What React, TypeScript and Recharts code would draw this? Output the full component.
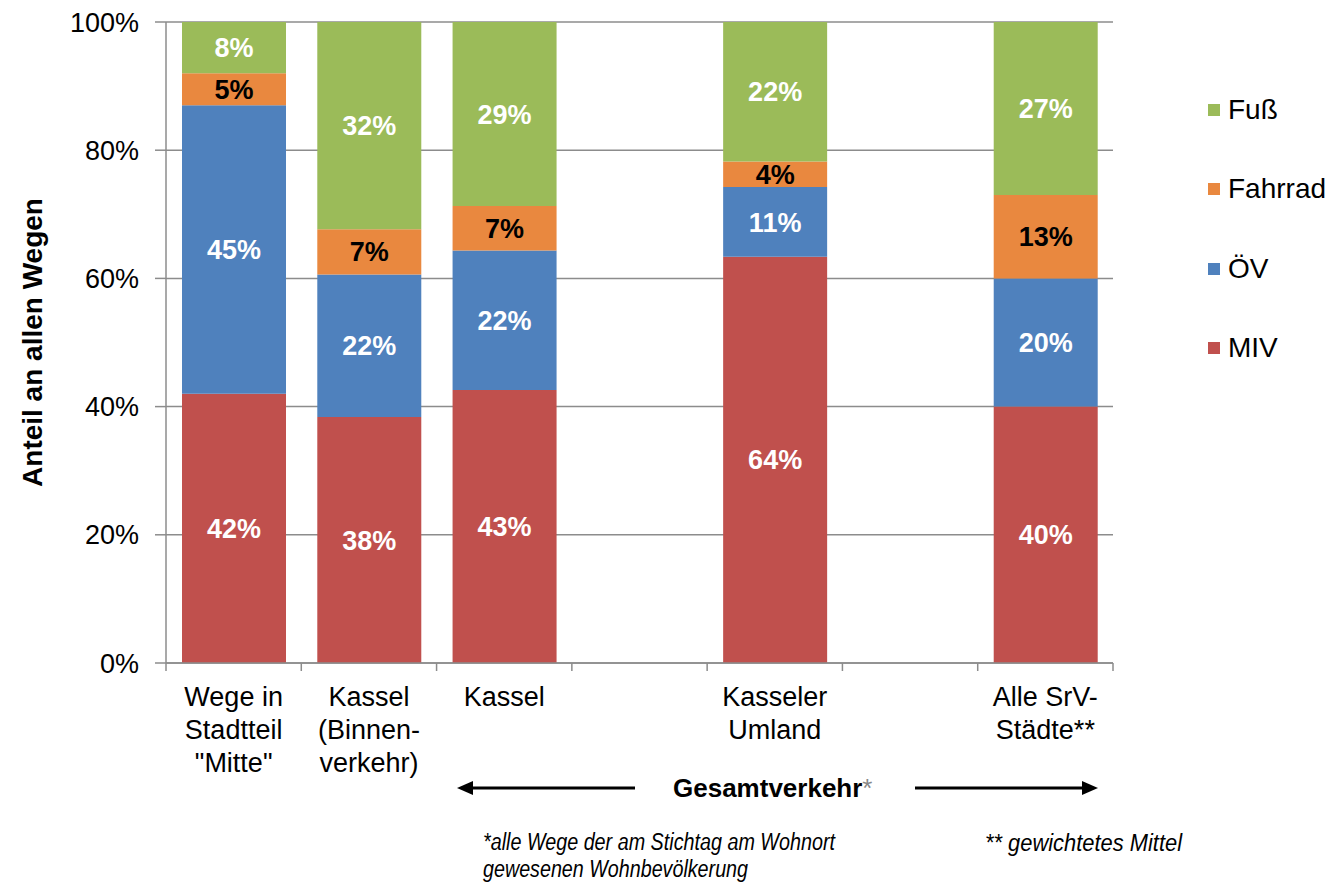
import React from 'react';
import { BarChart, Bar, XAxis, YAxis, CartesianGrid, Legend, LabelList } from 'recharts';

const categories = ['Wege in Stadtteil "Mitte"', 'Kassel (Binnenverkehr)', 'Kassel', 'gap1', 'Kasseler Umland', 'gap2', 'Alle SrV-Städte**'];
const tickLines: string[][] = [
  ['Wege in', 'Stadtteil', '"Mitte"'],
  ['Kassel', '(Binnen-', 'verkehr)'],
  ['Kassel'],
  [],
  ['Kasseler', 'Umland'],
  [],
  ['Alle SrV-', 'Städte**'],
];
const miv = [42, 38, 43, 0, 64, 0, 40];
const oev = [45, 22, 22, 0, 11, 0, 20];
const fahrrad = [5, 7, 7, 0, 4, 0, 13];
const fuss = [8, 32, 29, 0, 22, 0, 27];
const yTicks = [0, 0.2, 0.4, 0.6, 0.8, 1];

const series = [
  { key: 'MIV', color: '#C0504D', label: '#ffffff' },
  { key: 'ÖV', color: '#4F81BD', label: '#ffffff' },
  { key: 'Fahrrad', color: '#E9883F', label: '#000000' },
  { key: 'Fuß', color: '#9BBB59', label: '#ffffff' },
];

const data = categories.map((c, i) => ({
  cat: c,
  MIV: miv[i],
  'ÖV': oev[i],
  Fahrrad: fahrrad[i],
  'Fuß': fuss[i],
}));

const FONT = '"Liberation Sans", Arial, sans-serif';
const AXIS = '#8c8c8c';

const XTick = (props: any) => {
  const { x, y, payload } = props;
  const idx = props.index ?? payload?.index ?? 0;
  const count = props.visibleTicksCount || categories.length;
  const axisW = typeof props.width === 'number' ? props.width : 947;
  const bw = axisW / count;
  const lines = tickLines[idx] || [];
  return (
    <g>
      <line x1={x - bw / 2} y1={y} x2={x - bw / 2} y2={y + 8} stroke={AXIS} strokeWidth={1.5} />
      {idx === count - 1 && (
        <line x1={x + bw / 2} y1={y} x2={x + bw / 2} y2={y + 8} stroke={AXIS} strokeWidth={1.5} />
      )}
      <text x={x} y={y} textAnchor="middle" fontSize={27} fontFamily={FONT} fill="#000">
        {lines.map((l, i) => (
          <tspan key={i} x={x} dy={i === 0 ? 43 : 33}>{l}</tspan>
        ))}
      </text>
    </g>
  );
};

const LegendContent = () => {
  const items = series.slice().reverse();
  return (
    <div style={{ fontFamily: FONT }}>
      {items.map((p) => (
        <div key={p.key} style={{ height: 79.5, display: 'flex', alignItems: 'center' }}>
          <div style={{ width: 12, height: 12, background: p.color, marginRight: 8 }} />
          <span style={{ fontSize: 28, color: '#000' }}>{p.key}</span>
        </div>
      ))}
    </div>
  );
};

const YLabel = (props: any) => {
  const vb = props.viewBox || { x: 0, y: 0, width: 0, height: 0 };
  const cx = 32;
  const cy = vb.y + vb.height / 2;
  return (
    <text x={cx} y={cy} transform={`rotate(-90, ${cx}, ${cy})`} textAnchor="middle" dominantBaseline="central"
      fontSize={28} fontWeight="bold" fontFamily={FONT} fill="#000">
      Anteil an allen Wegen
    </text>
  );
};

export default function App() {
  return (
    <div style={{ position: 'absolute', left: 0, top: 0, width: 1336, height: 883, background: '#fff' }}>
      <BarChart
        width={1336}
        height={883}
        data={data}
        stackOffset="expand"
        margin={{ top: 22, right: 95, bottom: 120, left: 0 }}
      >
        <CartesianGrid vertical={false} stroke={AXIS} strokeWidth={1.5} xAxisId="cat" />
        <XAxis
          xAxisId="cat"
          dataKey="cat"
          type="category"
          interval={0}
          height={100}
          axisLine={{ stroke: AXIS, strokeWidth: 1.5 }}
          tickLine={false}
          tickSize={0}
          tickMargin={0}
          tick={<XTick />}
        />
        <YAxis
          width={166}
          domain={[0, 1]}
          ticks={yTicks}
          tickFormatter={(v: number) => `${Math.round(v * 100)}%`}
          tick={{ fontSize: 27, fontFamily: FONT, fill: '#000' }}
          tickSize={11}
          tickMargin={16}
          axisLine={{ stroke: AXIS, strokeWidth: 1.5 }}
          tickLine={{ stroke: AXIS, strokeWidth: 1.5 }}
          label={<YLabel />}
        />
        <Legend
          layout="vertical"
          align="right"
          verticalAlign="top"
          width={128}
          wrapperStyle={{ left: 1208, top: 70, width: 128 }}
          content={<LegendContent />}
        />
        {series.map((s) => (
          <Bar
            key={s.key}
            dataKey={s.key}
            name={s.key}
            stackId="a"
            xAxisId="cat"
            fill={s.color}
            barSize={104}
            isAnimationActive={false}
          >
            <LabelList
              dataKey={s.key}
              position="center"
              formatter={(v: any) => (v ? `${v}%` : '')}
              style={{ fontSize: 27, fontWeight: 'bold', fontFamily: FONT, fill: s.label }}
            />
          </Bar>
        ))}
      </BarChart>
      <svg width={1336} height={883} style={{ position: 'absolute', left: 0, top: 0, pointerEvents: 'none' }}>
        <line x1={470} y1={788} x2={635} y2={788} stroke="#000" strokeWidth={3} />
        <polygon points="457,788 473,781 473,795" fill="#000" />
        <line x1={915} y1={788} x2={1084} y2={788} stroke="#000" strokeWidth={3} />
        <polygon points="1098,788 1082,781 1082,795" fill="#000" />
        <text x={673} y={797} fontSize={26} fontFamily={FONT} fill="#000">
          <tspan fontWeight="bold">Gesamtverkehr</tspan>
          <tspan fill="#888">*</tspan>
        </text>
        <text x={483} y={850} fontSize={23} fontStyle="italic" fontFamily={FONT} fill="#000"
          textLength={352} lengthAdjust="spacingAndGlyphs">*alle Wege der am Stichtag am Wohnort</text>
        <text x={483} y={877} fontSize={23} fontStyle="italic" fontFamily={FONT} fill="#000"
          textLength={265} lengthAdjust="spacingAndGlyphs">gewesenen Wohnbevölkerung</text>
        <text x={985} y={851} fontSize={23} fontStyle="italic" fontFamily={FONT} fill="#000"
          textLength={197} lengthAdjust="spacingAndGlyphs">** gewichtetes Mittel</text>
      </svg>
    </div>
  );
}
